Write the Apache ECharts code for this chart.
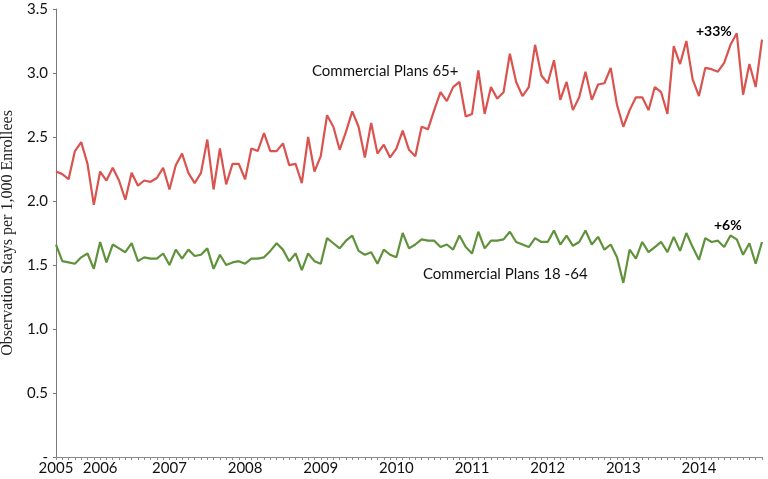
<!DOCTYPE html>
<html>
<head>
<meta charset="utf-8">
<script src="https://cdn.jsdelivr.net/npm/echarts@6/dist/echarts.min.js"></script>
<style>html,body{margin:0;padding:0;background:#fff;}#c{width:768px;height:479px;}</style>
</head>
<body>
<div id="c"></div>
<script>
// Monthly observations (113 months)
var plans65 = [2.23,2.21,2.17,2.39,2.46,2.29,1.97,2.23,2.16,2.26,2.16,2.01,2.22,2.12,2.16,2.15,2.18,2.26,2.09,2.28,
  2.37,2.22,2.14,2.22,2.48,2.09,2.41,2.13,2.29,2.29,2.17,2.41,2.39,2.53,2.39,2.39,2.45,2.28,2.29,2.14,
  2.50,2.23,2.35,2.67,2.58,2.40,2.54,2.70,2.58,2.34,2.61,2.37,2.44,2.34,2.41,2.55,2.40,2.35,2.58,2.56,
  2.71,2.85,2.78,2.89,2.93,2.66,2.68,3.02,2.68,2.89,2.80,2.85,3.15,2.93,2.82,2.89,3.22,2.98,2.92,3.10,
  2.79,2.93,2.71,2.81,3.01,2.79,2.91,2.92,3.04,2.75,2.58,2.71,2.81,2.81,2.71,2.89,2.85,2.68,3.21,3.07,
  3.25,2.95,2.82,3.04,3.03,3.01,3.08,3.22,3.31,2.83,3.07,2.89,3.26];
var plans18to64 = [1.66,1.53,1.52,1.51,1.56,1.59,1.47,1.68,1.52,1.66,1.63,1.60,1.67,1.53,1.56,1.55,1.55,1.59,1.50,1.62,
  1.55,1.62,1.57,1.58,1.63,1.47,1.58,1.50,1.52,1.53,1.51,1.55,1.55,1.56,1.61,1.67,1.62,1.53,1.59,1.46,
  1.59,1.53,1.51,1.71,1.67,1.63,1.69,1.73,1.61,1.58,1.60,1.51,1.62,1.58,1.56,1.75,1.63,1.66,1.70,1.69,
  1.69,1.64,1.66,1.62,1.73,1.64,1.59,1.76,1.63,1.69,1.69,1.70,1.76,1.68,1.66,1.64,1.71,1.68,1.68,1.77,
  1.66,1.73,1.65,1.68,1.77,1.66,1.72,1.62,1.66,1.56,1.36,1.62,1.55,1.68,1.60,1.64,1.68,1.60,1.72,1.61,
  1.75,1.64,1.54,1.71,1.68,1.69,1.64,1.73,1.70,1.58,1.67,1.51,1.68];
var yearLabels = ['2005','2006','2007','2008','2009','2010','2011','2012','2013','2014'];
var yearLabelIndex = [0,7,18,30,42,54,66,78,90,102];
var yTickLabels = ['-','0.5','1.0','1.5','2.0','2.5','3.0','3.5'];
var seriesNames = ['Commercial Plans 65+','Commercial Plans 18-64'];
var annotations = ['+33%','+6%'];

var categories = [];
for (var i = 0; i < plans65.length; i++) categories.push(String(i));
var labelMap = {};
yearLabelIndex.forEach(function(idx, k){ labelMap[idx] = yearLabels[k]; });

var chart = echarts.init(document.getElementById('c'), null, {renderer:'canvas'});
var sans = 'Lato, "Open Sans", sans-serif';
chart.setOption({
  animation: false,
  backgroundColor: '#fff',
  grid: {left: 56, right: 6, top: 9, bottom: 22, containLabel: false, outerBoundsMode: 'none'},
  xAxis: {
    type: 'category',
    data: categories,
    boundaryGap: false,
    axisLine: {lineStyle: {color: '#8a8a8a', width: 1}},
    axisTick: {interval: 0, length: 3, lineStyle: {color: '#8a8a8a'}},
    axisLabel: {
      interval: function(idx){ return labelMap[idx] !== undefined; },
      formatter: function(v, idx){ return labelMap[idx] || ''; },
      fontFamily: sans, fontSize: 15, color: '#111', margin: 4
    },
    splitLine: {show: false}
  },
  yAxis: {
    type: 'value',
    min: 0, max: 3.5, interval: 0.5,
    name: 'Observation Stays per 1,000 Enrollees',
    nameLocation: 'middle',
    nameGap: 38,
    nameTextStyle: {fontFamily: '"Liberation Serif", serif', fontSize: 16, color: '#222'},
    axisLine: {show: true, lineStyle: {color: '#7a7a7a', width: 1}},
    axisTick: {show: true, length: 3, lineStyle: {color: '#7a7a7a'}},
    axisLabel: {
      formatter: function(v){ return yTickLabels[Math.round(v / 0.5)]; },
      fontFamily: sans, fontSize: 15, color: '#111', margin: 8
    },
    splitLine: {show: false}
  },
  series: [
    {name: seriesNames[0], type: 'line', data: plans65, showSymbol: false,
     lineStyle: {color: '#d9534f', width: 2.2}, itemStyle: {color: '#d9534f'}},
    {name: seriesNames[1], type: 'line', data: plans18to64, showSymbol: false,
     lineStyle: {color: '#5f923b', width: 2.2}, itemStyle: {color: '#5f923b'}}
  ],
  graphic: [
    {type: 'text', left: 312, top: 64, style: {text: seriesNames[0], font: '15px ' + sans, fill: '#111'}},
    {type: 'text', left: 423, top: 267, style: {text: seriesNames[1].replace('-', ' -'), font: '15px ' + sans, fill: '#111'}},
    {type: 'text', left: 696, top: 24, style: {text: annotations[0], font: 'bold 14px ' + sans, fill: '#000'}},
    {type: 'text', left: 714, top: 218, style: {text: annotations[1], font: 'bold 14px ' + sans, fill: '#000'}}
  ]
});
</script>
</body>
</html>
